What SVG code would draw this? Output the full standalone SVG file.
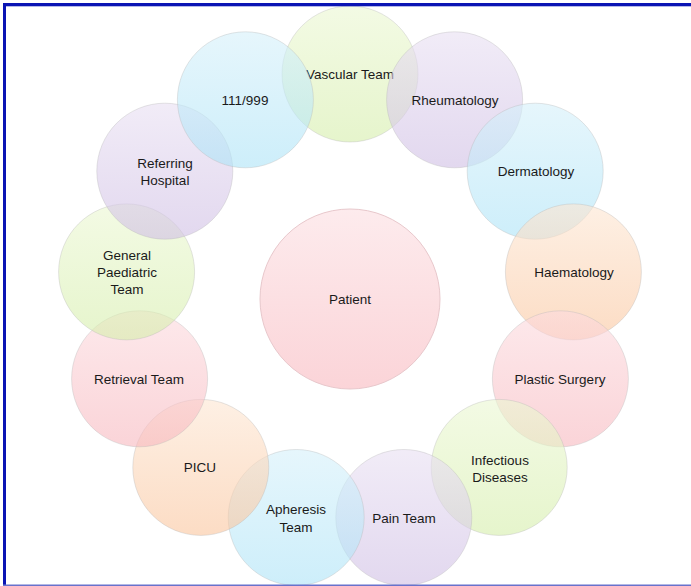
<svg xmlns="http://www.w3.org/2000/svg" width="691" height="586" viewBox="0 0 691 586">
  <defs>
    <linearGradient id="gPink" x1="0" y1="0" x2="0" y2="1">
      <stop offset="0" stop-color="#fcdade"/>
      <stop offset="1" stop-color="#f7b7be"/>
    </linearGradient>
    <linearGradient id="gPurple" x1="0" y1="0" x2="0" y2="1">
      <stop offset="0" stop-color="#e8dff2"/>
      <stop offset="1" stop-color="#cfbee4"/>
    </linearGradient>
    <linearGradient id="gCyan" x1="0" y1="0" x2="0" y2="1">
      <stop offset="0" stop-color="#d5f0fa"/>
      <stop offset="1" stop-color="#ace3f7"/>
    </linearGradient>
    <linearGradient id="gPeach" x1="0" y1="0" x2="0" y2="1">
      <stop offset="0" stop-color="#fde6d2"/>
      <stop offset="1" stop-color="#fac59d"/>
    </linearGradient>
    <linearGradient id="gGreen" x1="0" y1="0" x2="0" y2="1">
      <stop offset="0" stop-color="#ebf7d2"/>
      <stop offset="1" stop-color="#d5eeaa"/>
    </linearGradient>
    <linearGradient id="gCore" x1="0" y1="0" x2="0" y2="1">
      <stop offset="0" stop-color="#fdebed"/>
      <stop offset="1" stop-color="#fbd4d8"/>
    </linearGradient>
  </defs>
  <style>
    .ring { fill-opacity: 0.6; stroke: #b4b4b4; stroke-opacity: 0.35; stroke-width: 1; }
    .core { stroke: #e8c8cc; stroke-width: 1; }
    .pink { fill: url(#gPink); }
    .purple { fill: url(#gPurple); }
    .cyan { fill: url(#gCyan); }
    .peach { fill: url(#gPeach); }
    .green { fill: url(#gGreen); }
    text { font-family: "Liberation Sans", Arial, sans-serif; font-size: 13.5px; fill: #1a1a1a; text-anchor: middle; }
  </style>

  <rect x="0" y="0" width="691" height="586" fill="#ffffff"/>

  <!-- hub -->
  <g id="patient">
    <circle class="core" cx="350" cy="299" r="90" fill="url(#gCore)"/>
    <text x="350" y="304">Patient</text>
  </g>

  <!-- no connectors are drawn; the ring circles simply overlap -->
  <g id="connectors"/>

  <!-- ring of teams around the patient -->
  <g id="vascular-team">
    <circle class="ring green" cx="350" cy="74" r="68"/>
    <text x="350" y="79">Vascular Team</text>
  </g>
  <g id="rheumatology">
    <circle class="ring purple" cx="454.6" cy="99.8" r="68"/>
    <text x="455" y="105">Rheumatology</text>
  </g>
  <g id="dermatology">
    <circle class="ring cyan" cx="535.2" cy="171.2" r="68"/>
    <text x="536" y="176">Dermatology</text>
  </g>
  <g id="haematology">
    <circle class="ring peach" cx="573.4" cy="271.9" r="68"/>
    <text x="574" y="277">Haematology</text>
  </g>
  <g id="plastic-surgery">
    <circle class="ring pink" cx="560.4" cy="378.8" r="68"/>
    <text x="560" y="384">Plastic Surgery</text>
  </g>
  <g id="infectious-diseases">
    <circle class="ring green" cx="499.2" cy="467.4" r="68"/>
    <text x="500" y="465">Infectious</text>
    <text x="500" y="482">Diseases</text>
  </g>
  <g id="pain-team">
    <circle class="ring purple" cx="403.8" cy="517.5" r="68"/>
    <text x="404" y="523">Pain Team</text>
  </g>
  <g id="apheresis-team">
    <circle class="ring cyan" cx="296.2" cy="517.5" r="68"/>
    <text x="296" y="514">Apheresis</text>
    <text x="296" y="532">Team</text>
  </g>
  <g id="picu">
    <circle class="ring peach" cx="200.8" cy="467.4" r="68"/>
    <text x="200" y="472">PICU</text>
  </g>
  <g id="retrieval-team">
    <circle class="ring pink" cx="139.6" cy="378.8" r="68"/>
    <text x="139" y="384">Retrieval Team</text>
  </g>
  <g id="general-paediatric-team">
    <circle class="ring green" cx="126.6" cy="271.9" r="68"/>
    <text x="127" y="260">General</text>
    <text x="127" y="277">Paediatric</text>
    <text x="127" y="294">Team</text>
  </g>
  <g id="referring-hospital">
    <circle class="ring purple" cx="164.8" cy="171.2" r="68"/>
    <text x="165" y="168">Referring</text>
    <text x="165" y="185">Hospital</text>
  </g>
  <g id="line-111-999">
    <circle class="ring cyan" cx="245.4" cy="99.8" r="68"/>
    <text x="245" y="105">111/999</text>
  </g>

  <!-- frame -->
  <rect x="3" y="3" width="688" height="3.3" fill="#0a14b4"/>
  <rect x="3" y="3" width="3" height="583" fill="#0a14b4"/>
  <rect x="3" y="584.5" width="688" height="1.5" fill="#6872cc"/>
</svg>
